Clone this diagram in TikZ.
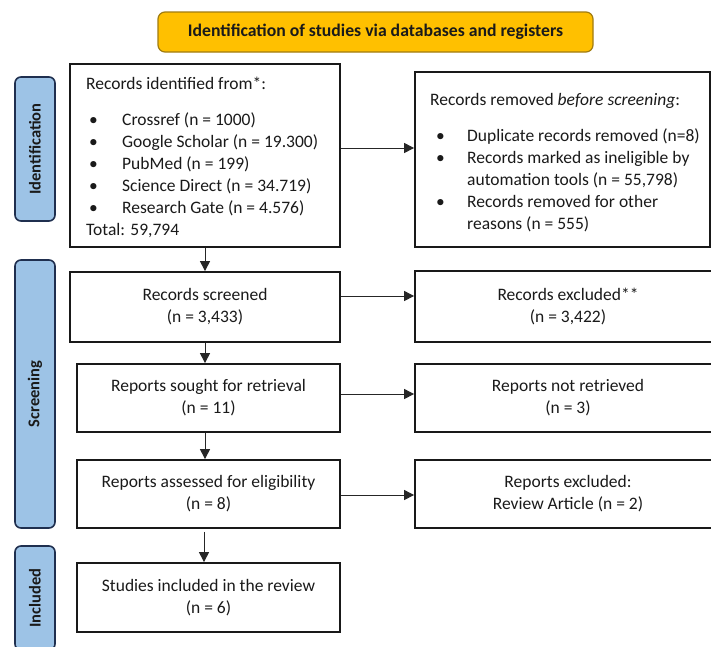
\documentclass[tikz,border=0pt]{standalone}
\usepackage{fontspec}
\setmainfont{Carlito}
\usetikzlibrary{arrows.meta}
\definecolor{titlefill}{HTML}{FFC000}
\definecolor{titledraw}{HTML}{A07C10}
\definecolor{sidefill}{HTML}{9DC3E6}
\definecolor{sidedraw}{HTML}{1F2F4F}
\definecolor{txt}{HTML}{1A1A1A}
\begin{document}
\begin{tikzpicture}[x=1pt,y=-1pt,
  box/.style={draw=black!90, line width=1.8pt, rectangle, inner sep=0pt, text=txt,
    font=\fontsize{17.5}{22}\selectfont, align=center},
  txtblock/.style={inner sep=0pt, anchor=north west, align=left, text=txt,
    font=\fontsize{17.5}{22}\selectfont},
  side/.style={draw=sidedraw, fill=sidefill, rounded corners=6pt, line width=1.6pt,
    rotate=90, inner sep=0pt, minimum height=40pt, text=txt,
    font=\bfseries\fontsize{16.5}{19}\selectfont},
  arr/.style={-{Triangle[length=10pt,width=10pt]}, line width=1pt, draw=black!85}
]
\clip (0,0) rectangle (711,646);
\fill[white] (0,0) rectangle (711,646);

% title
\node[draw=titledraw, fill=titlefill, rounded corners=7pt, line width=1.2pt,
  minimum width=435pt, minimum height=40pt, inner sep=0pt,
  font=\bfseries\fontsize{17.7}{20}\selectfont, text=txt] (title) at (375.5,32)
  {Identification of studies via databases and registers};

% side labels
\node[side, minimum width=144pt] (sideid) at (35,149) {Identification};
\node[side, minimum width=268pt] (sidescr) at (35,394) {Screening};
\node[side, minimum width=104pt] (sideinc) at (35,598) {Included};

% left column
\node[box, minimum width=270pt, minimum height=183pt] (ident) at (205,155.5) {};
\node[txtblock] (identtxt) at (86,77) {Records identified from*:\\[14pt]
\hspace*{3pt}\makebox[33pt][l]{\textbullet}Crossref (n = 1000)\\
\hspace*{3pt}\makebox[33pt][l]{\textbullet}Google Scholar (n = 19.300)\\
\hspace*{3pt}\makebox[33pt][l]{\textbullet}PubMed (n = 199)\\
\hspace*{3pt}\makebox[33pt][l]{\textbullet}Science Direct (n = 34.719)\\
\hspace*{3pt}\makebox[33pt][l]{\textbullet}Research Gate (n = 4.576)\\
Total: 59,794};

\node[box, minimum width=270pt, minimum height=70pt] (screen) at (205,307)
  {Records screened\\(n = 3,433)};
\node[box, minimum width=263pt, minimum height=68pt] (sought) at (208.5,398)
  {Reports sought for retrieval\\(n = 11)};
\node[box, minimum width=263pt, minimum height=68pt] (assess) at (208.5,494)
  {Reports assessed for eligibility\\(n = 8)};
\node[box, minimum width=263pt, minimum height=69pt] (incl) at (208.5,597.5)
  {Studies included in the review\\(n = 6)};

% right column
\node[box, minimum width=295pt, minimum height=175pt] (removed) at (562.5,159.5) {};
\node[txtblock] (removedtxt) at (430,93) {Records removed \textit{before screening}:\\[14pt]
\hspace*{6pt}\makebox[31pt][l]{\textbullet}Duplicate records removed (n=8)\\
\hspace*{6pt}\makebox[31pt][l]{\textbullet}Records marked as ineligible by\\
\hspace*{37pt}automation tools (n = 55,798)\\
\hspace*{6pt}\makebox[31pt][l]{\textbullet}Records removed for other\\
\hspace*{37pt}reasons (n = 555)};

\node[box, minimum width=306pt, minimum height=71pt] (excl) at (568,306.5)
  {Records excluded**\\(n = 3,422)};
\node[box, minimum width=306pt, minimum height=68pt] (notret) at (568,398)
  {Reports not retrieved\\(n = 3)};
\node[box, minimum width=306pt, minimum height=68pt] (repexcl) at (568,494)
  {Reports excluded:\\Review Article (n = 2)};

% connectors
\coordinate (y1) at (0,148);
\coordinate (y2) at (0,296);
\coordinate (y3) at (0,394);
\coordinate (y4) at (0,495);
\draw[arr] (ident.east |- y1) -- (removed.west |- y1);
\draw[arr] (screen.east |- y2) -- (excl.west |- y2);
\draw[arr] (sought.east |- y3) -- (notret.west |- y3);
\draw[arr] (assess.east |- y4) -- (repexcl.west |- y4);

\coordinate (xa) at (205,0);
\coordinate (xb) at (204,0);
\draw[arr] (ident.south) -- (screen.north);
\draw[arr] (xa |- screen.south) -- (xa |- sought.north);
\draw[arr] (xa |- sought.south) -- (xa |- assess.north);
\draw[arr] ([yshift=-3pt]xb |- assess.south) -- (xb |- incl.north);
\end{tikzpicture}
\end{document}
